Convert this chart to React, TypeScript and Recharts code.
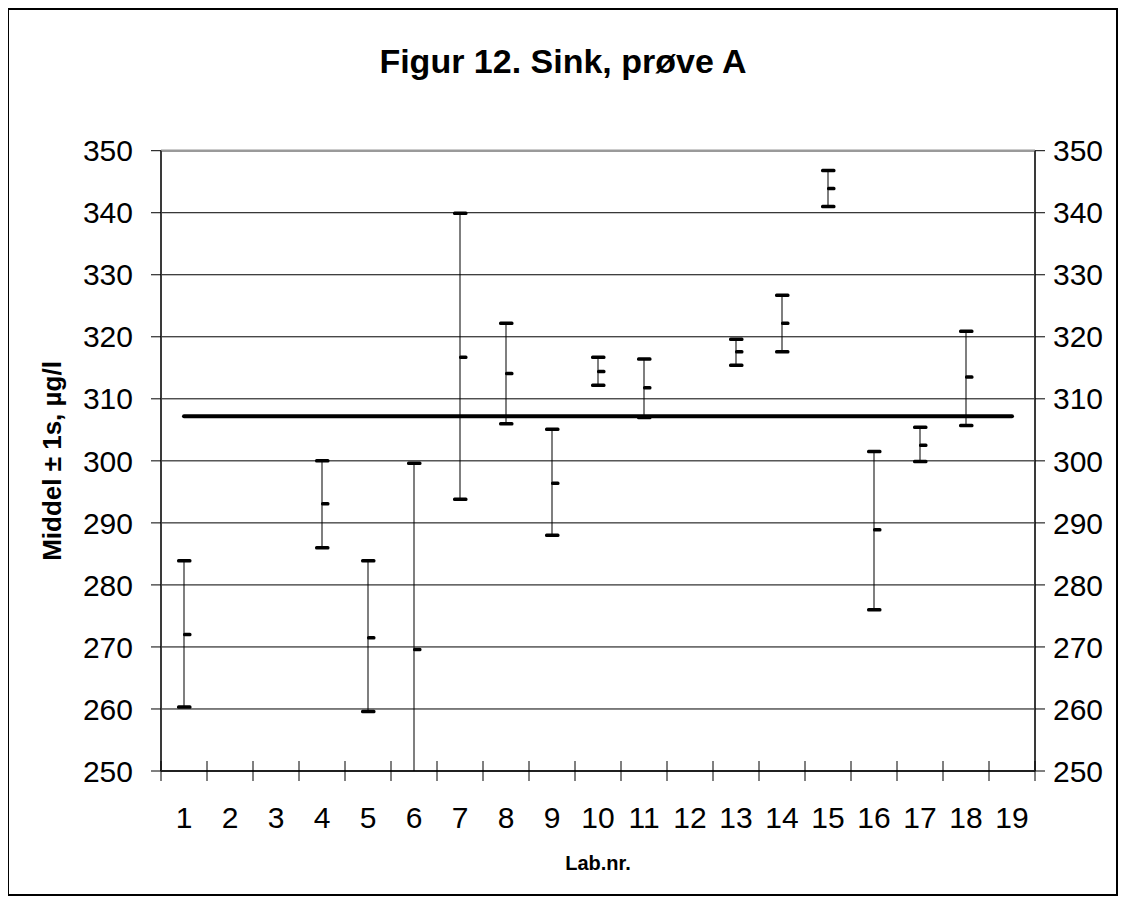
import React from 'react';
import {
  ComposedChart,
  XAxis,
  YAxis,
  CartesianGrid,
  Scatter,
  Line,
  Bar,
  ReferenceLine,
} from 'recharts';

const FONT = '"Liberation Sans", Arial, Helvetica, sans-serif';

// ---- data ----
const labs = [1, 2, 3, 4, 5, 6, 7, 8, 9, 10, 11, 12, 13, 14, 15, 16, 17, 18, 19];
const highValues: (number | null)[] = [283.9, null, null, 300.0, 283.9, 299.6, 339.9, 322.2, 305.1, 316.7, 316.4, null, 319.6, 326.7, 346.8, 301.5, 305.4, 320.9, null];
const meanValues: (number | null)[] = [272.0, null, null, 293.1, 271.5, 269.6, 316.7, 314.1, 296.4, 314.4, 311.8, null, 317.6, 322.2, 343.9, 288.9, 302.5, 313.5, null];
const lowValues: (number | null)[] = [260.3, null, null, 286.0, 259.6, 239.6, 293.8, 306.0, 288.0, 312.2, 307.0, null, 315.4, 317.6, 341.0, 276.0, 299.9, 305.7, null];
const referenceValue = 307.2;
const yTicks = [250, 260, 270, 280, 290, 300, 310, 320, 330, 340, 350];
const xBoundaries = [0.5, 1.5, 2.5, 3.5, 4.5, 5.5, 6.5, 7.5, 8.5, 9.5, 10.5, 11.5, 12.5, 13.5, 14.5, 15.5, 16.5, 17.5, 18.5, 19.5];

const title = 'Figur 12. Sink, prøve A';
const xTitle = 'Lab.nr.';
const yTitle = 'Middel ± 1s, µg/l';

const rows = labs.map((lab, i) => ({
  lab,
  high: highValues[i],
  mean: meanValues[i],
  low: lowValues[i],
  range: meanValues[i] != null ? [lowValues[i] as number, highValues[i] as number] : null,
  ref: referenceValue,
}));
const measured = rows.filter((r) => r.mean != null);

const allXTicks = [...xBoundaries, ...labs].sort((a, b) => a - b);

const XTick = (props: any) => {
  const { x, y, payload } = props;
  const v = payload.value;
  if (Number.isInteger(v)) {
    return (
      <text x={x} y={y + 36} dy="0.71em" textAnchor="middle" fontSize={30} fontFamily={FONT} fill="#000">
        {v}
      </text>
    );
  }
  return <line x1={x} x2={x} y1={y - 10} y2={y + 10} stroke="#000" strokeWidth={1} />;
};

const Cap = (props: any) => {
  const { cx, cy } = props;
  if (cx == null || cy == null || isNaN(cy)) return null;
  return <rect x={cx - 7} y={cy - 1.75} width={14.5} height={3.5} rx={1.5} fill="#000" />;
};

const MeanTick = (props: any) => {
  const { cx, cy } = props;
  if (cx == null || cy == null || isNaN(cy)) return null;
  return <rect x={cx - 1} y={cy - 1.75} width={8.5} height={3.5} rx={1.5} fill="#000" />;
};

const RangeLine = (props: any) => {
  const { x, y, width, height } = props;
  if (x == null || y == null || isNaN(y) || isNaN(height)) return null;
  const cx = x + width / 2;
  const top = Math.min(y, y + height);
  return <rect x={cx - 0.5} y={top} width={1} height={Math.abs(height)} fill="#000" />;
};

const tickStyle = { fontSize: 30, fill: '#000', fontFamily: FONT };

export default function App() {
  return (
    <div style={{ position: 'relative', width: 1110, height: 888, fontFamily: FONT }}>
      <ComposedChart
        width={1110}
        height={888}
        data={rows}
        margin={{ top: 142.7, right: 0, bottom: 65, left: 0 }}
      >
        <CartesianGrid horizontal vertical={false} stroke="#000" strokeWidth={1} />
        <ReferenceLine y={350} stroke="#9a9a9a" strokeWidth={2.5} />
        <XAxis
          type="number"
          dataKey="lab"
          domain={[0.5, 19.5]}
          ticks={allXTicks}
          interval={0}
          tick={XTick}
          tickLine={false}
          tickSize={0}
          tickMargin={0}
          axisLine={{ stroke: '#000', strokeWidth: 1.5 }}
          height={60}
        />
        <YAxis
          domain={[250, 350]}
          ticks={yTicks}
          interval={0}
          allowDataOverflow
          width={153}
          tickSize={10}
          tickMargin={18}
          tick={tickStyle}
          tickLine={{ stroke: '#000' }}
          axisLine={{ stroke: '#3a3a3a', strokeWidth: 2 }}
        />
        <YAxis
          yAxisId="right"
          orientation="right"
          domain={[250, 350]}
          ticks={yTicks}
          interval={0}
          allowDataOverflow
          width={83}
          tickSize={10}
          tickMargin={8}
          tick={tickStyle}
          tickLine={{ stroke: '#000' }}
          axisLine={{ stroke: '#3a3a3a', strokeWidth: 2 }}
        />
        <Bar dataKey="range" barSize={2} shape={RangeLine} isAnimationActive={false} />
        <Line
          dataKey="ref"
          stroke="#000"
          strokeWidth={4}
          strokeLinecap="round"
          dot={false}
          activeDot={false}
          isAnimationActive={false}
        />
        <Scatter data={measured} dataKey="mean" shape={MeanTick} isAnimationActive={false} />
        <Scatter data={measured} dataKey="high" shape={Cap} isAnimationActive={false} />
        <Scatter data={measured} dataKey="low" shape={Cap} isAnimationActive={false} />
      </ComposedChart>

      <div
        style={{
          position: 'absolute',
          left: 0,
          width: 1110,
          top: 36,
          textAlign: 'center',
          fontSize: 34,
          lineHeight: 1,
          fontWeight: 'bold',
          whiteSpace: 'nowrap',
        }}
      >
        {title}
      </div>
      <div
        style={{
          position: 'absolute',
          left: 590,
          top: 845,
          transform: 'translateX(-50%)',
          fontSize: 20,
          lineHeight: 1,
          fontWeight: 'bold',
          whiteSpace: 'nowrap',
        }}
      >
        {xTitle}
      </div>
      <div
        style={{
          position: 'absolute',
          left: 44,
          top: 453,
          transform: 'translate(-50%, -50%) rotate(-90deg)',
          fontSize: 26,
          lineHeight: 1,
          fontWeight: 'bold',
          whiteSpace: 'nowrap',
        }}
      >
        {yTitle}
      </div>
      <div
        style={{
          position: 'absolute',
          left: -1,
          top: 0,
          width: 1111,
          height: 888,
          border: '2px solid #000',
          boxSizing: 'border-box',
          pointerEvents: 'none',
        }}
      />
    </div>
  );
}
